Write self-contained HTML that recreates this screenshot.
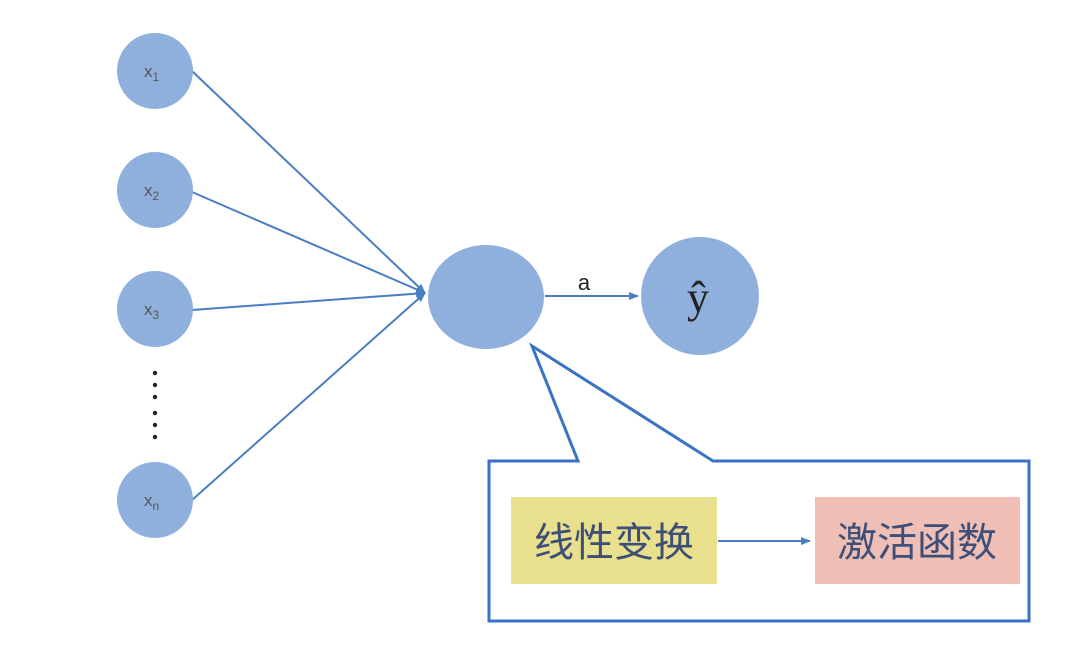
<!DOCTYPE html>
<html><head><meta charset="utf-8"><style>body{margin:0;background:#fff}</style></head><body>
<svg width="1081" height="646" xmlns="http://www.w3.org/2000/svg" style="display:block">
<defs><marker id="ah" markerWidth="10" markerHeight="10" refX="9" refY="5" orient="auto" markerUnits="userSpaceOnUse"><path d="M0,1 L10,5 L0,9 Z" fill="#4a7ec4"/></marker></defs>
<g stroke="#4a7ec4" stroke-width="2" fill="none">
<line x1="192" y1="71" x2="425" y2="293" marker-end="url(#ah)"/>
<line x1="192" y1="192" x2="425" y2="293" marker-end="url(#ah)"/>
<line x1="192" y1="310" x2="425" y2="293" marker-end="url(#ah)"/>
<line x1="192" y1="500" x2="425" y2="293" marker-end="url(#ah)"/>
<line x1="545" y1="296" x2="638" y2="296" marker-end="url(#ah)"/>
</g>
<g fill="#8fb0dc">
<circle cx="155" cy="71" r="38"/><circle cx="155" cy="190" r="38"/><circle cx="155" cy="309" r="38"/><circle cx="155" cy="500" r="38"/>
<ellipse cx="486" cy="297" rx="58" ry="52"/><circle cx="700" cy="296" r="59"/>
</g>
<g fill="#222"><circle cx="155" cy="373" r="2.2"/><circle cx="155" cy="385" r="2.2"/><circle cx="155" cy="397" r="2.2"/><circle cx="155" cy="413" r="2.2"/><circle cx="155" cy="425" r="2.2"/><circle cx="155" cy="437" r="2.2"/></g>
<g font-family="Liberation Sans, sans-serif" fill="#555" font-size="17">
<text x="144" y="77">x<tspan font-size="12" dy="4">1</tspan></text>
<text x="144" y="196">x<tspan font-size="12" dy="4">2</tspan></text>
<text x="144" y="315">x<tspan font-size="12" dy="4">3</tspan></text>
<text x="144" y="506">x<tspan font-size="12" dy="4">n</tspan></text>
</g>
<text x="584" y="290" font-family="Liberation Sans, sans-serif" font-size="22" fill="#222" text-anchor="middle">a</text>
<text x="698" y="312" font-family="Liberation Serif, serif" font-size="44" fill="#222" text-anchor="middle">ŷ</text>
<path d="M489,461 L578,461 L532,346 L713,461 L1029,461 L1029,621 L489,621 Z" fill="#fff" stroke="#3a72c4" stroke-width="3" stroke-linejoin="miter"/>
<rect x="511" y="497" width="206" height="87" fill="#e8e08c"/>
<rect x="815" y="497" width="205" height="87" fill="#efbfb6"/>
<line x1="718" y1="541" x2="810" y2="541" stroke="#4a7ec4" stroke-width="2" marker-end="url(#ah)"/>
<g font-family="Liberation Sans, 'Noto Sans CJK SC', sans-serif" font-size="40" fill="#3d4f78" text-anchor="middle">
<text x="614" y="556">线性变换</text>
<text x="917" y="556">激活函数</text>
</g>
</svg>
</body></html>
